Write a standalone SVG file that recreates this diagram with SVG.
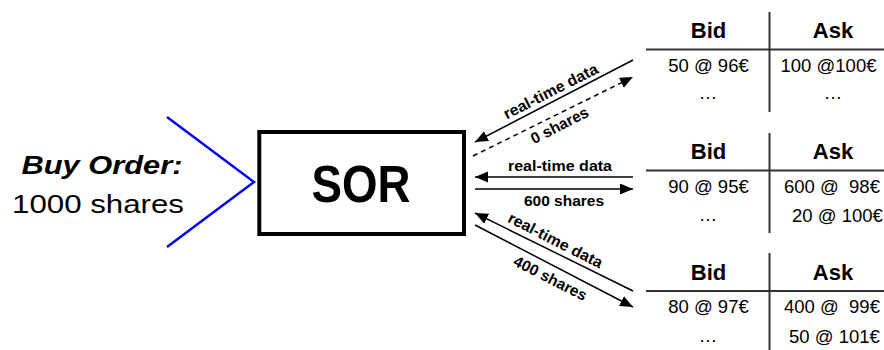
<svg xmlns="http://www.w3.org/2000/svg" width="884" height="350" viewBox="0 0 884 350">
<style>
text{font-family:"Liberation Sans",Arial,sans-serif;fill:#000}
.hdr{font-size:22px;font-weight:bold;text-anchor:middle}
.cell{font-size:18.5px}
.mid{text-anchor:middle}
.lbl{font-size:15.5px;font-weight:bold;text-anchor:middle}
.tl{stroke:#333;stroke-width:2;fill:none}
.con{stroke:#000;stroke-width:1.5;fill:none}
.dash{stroke-dasharray:5,4}
</style>
<defs>
<marker id="ah" markerUnits="userSpaceOnUse" markerWidth="14" markerHeight="12" refX="13" refY="5.5" orient="auto">
<path d="M0,0 L13,5.5 L0,11 z" fill="#000"/>
</marker>
</defs>
<rect width="884" height="350" fill="#fff"/>

<g id="buy-order">
<polyline points="167,117 254,182 167,247" fill="none" stroke="#0000ff" stroke-width="2.5"/>
<text x="102" y="174" font-size="26.5" font-weight="bold" font-style="italic" text-anchor="middle" textLength="161" lengthAdjust="spacingAndGlyphs">Buy Order:</text>
<text x="98" y="213" font-size="26.5" text-anchor="middle" textLength="172" lengthAdjust="spacingAndGlyphs">1000 shares</text>
</g>

<g id="sor">
<rect x="259.3" y="132" width="204.7" height="102" fill="#fff" stroke="#000" stroke-width="4"/>
<text x="361" y="202" font-size="51" font-weight="bold" text-anchor="middle" textLength="99" lengthAdjust="spacingAndGlyphs">SOR</text>
</g>

<g id="book1">
<line class="tl" x1="646" y1="49.5" x2="884" y2="49.5"/>
<line class="tl" x1="769.5" y1="12" x2="769.5" y2="112"/>
<text class="hdr" x="708.5" y="38">Bid</text>
<text class="hdr" x="833" y="38">Ask</text>
<text class="cell mid" x="708.5" y="72">50 @ 96€</text>
<text class="cell mid" x="828.5" y="72">100 @100€</text>
<text class="cell mid" x="708" y="99">…</text>
<text class="cell mid" x="833" y="99">…</text>
</g>

<g id="book2">
<line class="tl" x1="646" y1="170.5" x2="884" y2="170.5"/>
<line class="tl" x1="769.5" y1="133" x2="769.5" y2="233"/>
<text class="hdr" x="708.5" y="159">Bid</text>
<text class="hdr" x="833" y="159">Ask</text>
<text class="cell mid" x="708.5" y="193">90 @ 95€</text>
<text class="cell" x="784" y="193" xml:space="preserve">600 @  98€</text>
<text class="cell mid" x="708" y="221">…</text>
<text class="cell" x="792" y="222">20 @ 100€</text>
</g>

<g id="book3">
<line class="tl" x1="646" y1="291" x2="884" y2="291"/>
<line class="tl" x1="769.5" y1="253" x2="769.5" y2="350"/>
<text class="hdr" x="708.5" y="280">Bid</text>
<text class="hdr" x="833" y="280">Ask</text>
<text class="cell mid" x="708.5" y="313">80 @ 97€</text>
<text class="cell" x="784" y="313" xml:space="preserve">400 @  99€</text>
<text class="cell mid" x="708" y="342">…</text>
<text class="cell" x="789" y="343">50 @ 101€</text>
</g>

<g id="connectors">
<line class="con" x1="633" y1="60" x2="475" y2="142" marker-end="url(#ah)"/>
<line class="con dash" x1="473" y1="156" x2="633" y2="77" marker-end="url(#ah)"/>
<line class="con" x1="633" y1="177" x2="475" y2="177" marker-end="url(#ah)"/>
<line class="con" x1="475" y1="189" x2="633" y2="189" marker-end="url(#ah)"/>
<line class="con" x1="633" y1="291" x2="475" y2="213" marker-end="url(#ah)"/>
<line class="con" x1="475" y1="225" x2="633" y2="307" marker-end="url(#ah)"/>
<text class="lbl" transform="translate(553,96) rotate(-27)" textLength="104" lengthAdjust="spacingAndGlyphs">real-time data</text>
<text class="lbl" transform="translate(562,130) rotate(-27)">0 shares</text>
<text class="lbl" x="560" y="171" textLength="104" lengthAdjust="spacingAndGlyphs">real-time data</text>
<text class="lbl" x="564" y="206">600 shares</text>
<text class="lbl" transform="translate(553,245) rotate(27)" textLength="104" lengthAdjust="spacingAndGlyphs">real-time data</text>
<text class="lbl" transform="translate(548,283) rotate(27)">400 shares</text>
</g>
</svg>
